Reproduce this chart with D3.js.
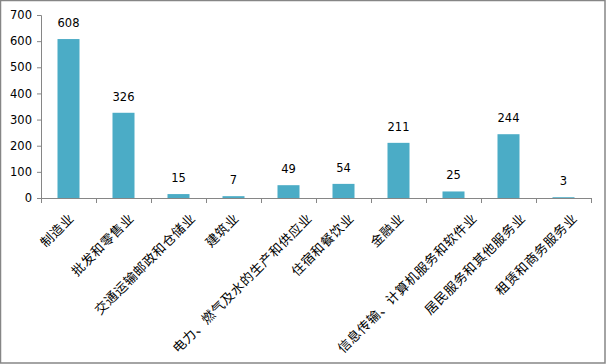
<!DOCTYPE html>
<html><head><meta charset="utf-8">
<script src="https://cdn.jsdelivr.net/npm/d3@7"></script>
<style>body{margin:0;background:#fff}svg{display:block}</style>
</head><body>
<svg id="c" width="606" height="364"></svg>
<script>
const categories = ["制造业","批发和零售业","交通运输邮政和仓储业","建筑业","电力、燃气及水的生产和供应业","住宿和餐饮业","金融业","信息传输、计算机服务和软件业","居民服务和其他服务业","租赁和商务服务业"];
const values = [608,326,15,7,49,54,211,25,244,3];
const yTicks = [0,100,200,300,400,500,600,700];

const svg = d3.select("#c");
svg.append("rect").attr("x",0.5).attr("y",0.5).attr("width",604.5).attr("height",362.5)
  .attr("fill","#fff").attr("stroke","#868686").attr("stroke-width",1.5);

const mLeft = 41, mRight = 591, mTop = 15, mBottom = 198;
const x = d3.scaleBand().domain(categories).range([mLeft,mRight]).paddingInner(0.6).paddingOuter(0.3);
const y = d3.scaleLinear().domain([0,700]).range([mBottom,mTop]);

// y axis
const ya = svg.append("g").attr("transform",`translate(${mLeft},0)`)
  .call(d3.axisLeft(y).tickValues(yTicks).tickSize(4).tickPadding(5));
ya.select(".domain").attr("stroke","#868686");
ya.selectAll(".tick line").attr("stroke","#868686");
ya.selectAll("text").attr("font-family","DejaVu Sans, sans-serif").attr("font-size","11.5px").attr("fill","#000");

// bars
svg.selectAll("rect.bar").data(values).join("rect").attr("class","bar")
  .attr("x",(d,i)=>x(categories[i])).attr("width",x.bandwidth())
  .attr("y",d=>y(d)).attr("height",d=>mBottom-y(d)).attr("fill","#4BACC6");

// x axis
const bounds = d3.range(categories.length+1).map(i=>mLeft+i*(mRight-mLeft)/categories.length);
const xa = svg.append("g");
xa.append("line").attr("x1",mLeft).attr("x2",mRight).attr("y1",mBottom+0.5).attr("y2",mBottom+0.5).attr("stroke","#868686");
xa.selectAll("line.t").data(bounds).join("line").attr("class","t")
  .attr("x1",d=>Math.round(d)+0.5).attr("x2",d=>Math.round(d)+0.5).attr("y1",mBottom).attr("y2",mBottom+5).attr("stroke","#868686");

// value labels
svg.selectAll("text.v").data(values).join("text").attr("class","v")
  .attr("x",(d,i)=>x(categories[i])+x.bandwidth()/2).attr("y",d=>y(d)-12)
  .attr("text-anchor","middle").attr("font-family","DejaVu Sans, sans-serif").attr("font-size","11.5px")
  .attr("fill","#000").text(d=>d);

// category labels
svg.selectAll("text.c").data(categories).join("text").attr("class","c")
  .attr("transform",d=>`translate(${x(d)+x.bandwidth()/2+1.64*d.length-1.8},${mBottom+18}) rotate(-45)`)
  .attr("text-anchor","end").attr("dy","0.35em")
  .attr("font-family","'Noto Sans CJK SC', sans-serif").attr("font-size","13px")
  .attr("letter-spacing","0.6px").attr("fill","#000")
  .text(d=>d);
</script>
</body></html>
